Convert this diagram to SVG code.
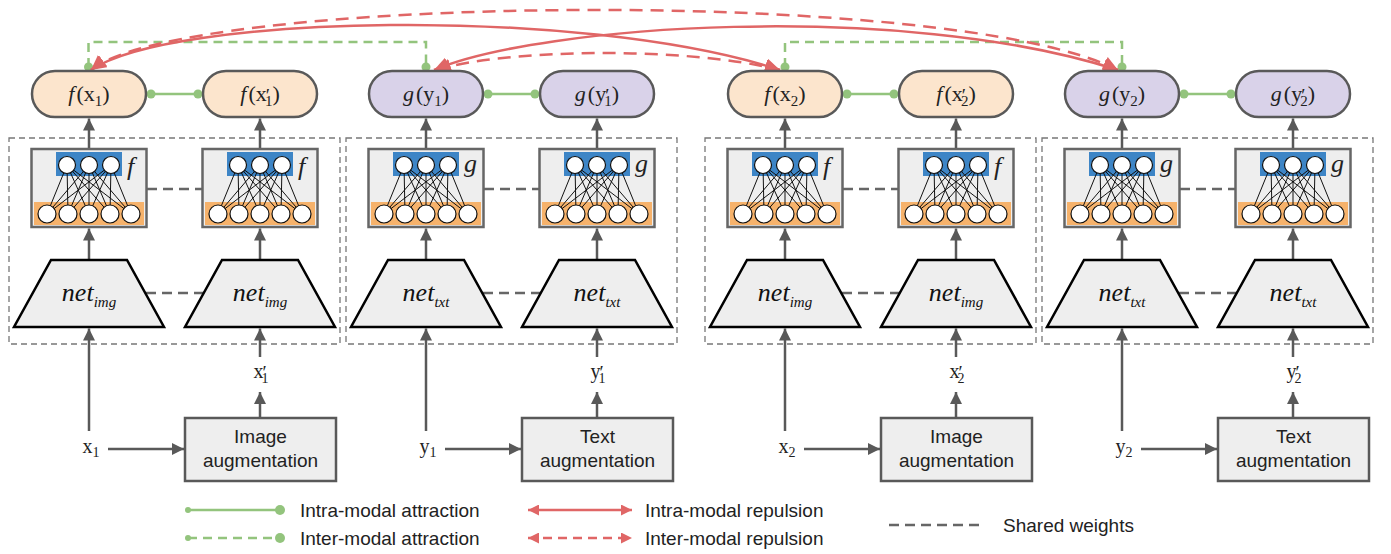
<svg xmlns="http://www.w3.org/2000/svg" xmlns:xlink="http://www.w3.org/1999/xlink" width="1391" height="554" viewBox="0 0 1391 554">
<style>
.rb{stroke:#595959;stroke-width:2.5}
.of{fill:#fce5cd}.pf{fill:#d9d2e9}
.nnbox{fill:#eeeeee;stroke:#666;stroke-width:2.5}
.trap{fill:#eeeeee;stroke:#000;stroke-width:2.5}
.panel{fill:none;stroke:#777;stroke-width:1.3;stroke-dasharray:6 4}
.aug{fill:#eeeeee;stroke:#595959;stroke-width:2.5}
.arr{stroke:#595959;stroke-width:2.5;fill:none;marker-end:url(#ga)}
.shared{stroke:#666;stroke-width:2.5;stroke-dasharray:10 6;fill:none}
.gs{stroke:#93c47d;stroke-width:2.5;fill:none}
.gd{stroke:#93c47d;stroke-width:2.5;fill:none;stroke-dasharray:9 6}
.gdot{fill:#93c47d}
.rs{stroke:#e06666;stroke-width:2.5;fill:none;marker-start:url(#ra);marker-end:url(#ra)}
.rd{stroke:#e06666;stroke-width:2.5;fill:none;stroke-dasharray:13 8;marker-start:url(#ra);marker-end:url(#ra)}
.rsl{stroke:#e06666;stroke-width:2.5;fill:none;marker-start:url(#ral);marker-end:url(#ral)}
.rdl{stroke:#e06666;stroke-width:2.5;fill:none;stroke-dasharray:9 6;marker-start:url(#ral);marker-end:url(#ral)}
.math{font-family:"Liberation Serif","Times New Roman","DejaVu Serif",serif;font-size:22px;fill:#222;text-anchor:middle}
.lab{font-family:"Liberation Serif","Times New Roman","DejaVu Serif",serif;font-size:20px;fill:#222;text-anchor:middle}
.it{font-style:italic}
.sub{font-size:15px}
.sub2{font-size:14px}
.pr{font-size:19px}
.net{font-family:"Liberation Serif","Times New Roman","DejaVu Serif",serif;font-size:26px;font-style:italic;fill:#111;text-anchor:middle}
.nsub{font-size:15px}
.nl{font-family:"Liberation Serif","Times New Roman","DejaVu Serif",serif;font-size:26px;font-style:italic;fill:#222}
.sans{font-family:"Liberation Sans",Arial,sans-serif;font-size:19px;fill:#222}
.mid{text-anchor:middle}
</style>
<defs>
<marker id="ga" markerUnits="userSpaceOnUse" markerWidth="13" markerHeight="12" refX="12" refY="6" orient="auto"><path d="M0,0L12,6L0,12z" fill="#595959"/></marker>
<marker id="ra" markerUnits="userSpaceOnUse" markerWidth="16" markerHeight="14" refX="15" refY="7" orient="auto-start-reverse"><path d="M0,0L15,7L0,14z" fill="#e06666"/></marker>
<marker id="ral" markerUnits="userSpaceOnUse" markerWidth="12" markerHeight="11" refX="11" refY="5.5" orient="auto-start-reverse"><path d="M0,0L11,5.5L0,11z" fill="#e06666"/></marker>
<g id="nn">
<rect class="nnbox" x="-57.5" y="149" width="115" height="78"/>
<rect x="-33" y="152" width="66" height="24" fill="#3d85c6"/>
<rect x="-55" y="202" width="110" height="23" fill="#f6b26b"/>
<path d="M-22 165L-42 214M-22 165L-21 214M-22 165L0 214M-22 165L21 214M-22 165L42 214M0 165L-42 214M0 165L-21 214M0 165L0 214M0 165L21 214M0 165L42 214M22 165L-42 214M22 165L-21 214M22 165L0 214M22 165L21 214M22 165L42 214" stroke="#111" stroke-width="1" fill="none"/>
<g fill="#fff" stroke="#111" stroke-width="1.2">
<circle cx="-22" cy="165" r="8.5"/><circle cx="0" cy="165" r="8.5"/><circle cx="22" cy="165" r="8.5"/>
<circle cx="-42" cy="214" r="9"/><circle cx="-21" cy="214" r="9"/><circle cx="0" cy="214" r="9"/><circle cx="21" cy="214" r="9"/><circle cx="42" cy="214" r="9"/>
</g>
</g>
<polygon id="trapz" class="trap" points="-38,260 38,260 75,327 -75,327"/>
</defs>

<g id="panels">
<rect class="panel" x="9" y="138" width="331" height="206"/>
<rect class="panel" x="346" y="138" width="331" height="206"/>
<rect class="panel" x="705" y="138" width="331" height="206"/>
<rect class="panel" x="1042" y="138" width="331" height="206"/>
</g>

<g id="connectors">
<path class="arr" d="M89 149V118.5"/><path class="arr" d="M260 149V118.5"/>
<path class="arr" d="M426 149V118.5"/><path class="arr" d="M597 149V118.5"/>
<path class="arr" d="M785 149V118.5"/><path class="arr" d="M956 149V118.5"/>
<path class="arr" d="M1122 149V118.5"/><path class="arr" d="M1293 149V118.5"/>
<path class="arr" d="M89 260V228.5"/><path class="arr" d="M260 260V228.5"/>
<path class="arr" d="M426 260V228.5"/><path class="arr" d="M597 260V228.5"/>
<path class="arr" d="M785 260V228.5"/><path class="arr" d="M956 260V228.5"/>
<path class="arr" d="M1122 260V228.5"/><path class="arr" d="M1293 260V228.5"/>
<path class="arr" d="M89 431V328.5"/><path class="arr" d="M426 431V328.5"/>
<path class="arr" d="M785 431V328.5"/><path class="arr" d="M1122 431V328.5"/>
<path class="arr" d="M260 357V328.5"/><path class="arr" d="M597 357V328.5"/>
<path class="arr" d="M956 357V328.5"/><path class="arr" d="M1293 357V328.5"/>
<path class="arr" d="M260 418V392"/><path class="arr" d="M597 418V392"/>
<path class="arr" d="M956 418V392"/><path class="arr" d="M1293 418V392"/>
<path class="arr" d="M108 449H184"/><path class="arr" d="M445 449H521"/>
<path class="arr" d="M804 449H880"/><path class="arr" d="M1141 449H1217"/>
<path class="shared" d="M147 189H202M484 189H539M843 189H898M1180 189H1235"/>
<path class="shared" d="M146 293H204M483 293H541M842 293H900M1179 293H1237"/>
<path class="gs" d="M151 94H198M488 94H535M847 94H894M1184 94H1231"/>
<g class="gdot">
<circle cx="151" cy="94" r="4.5"/><circle cx="198" cy="94" r="4.5"/>
<circle cx="488" cy="94" r="4.5"/><circle cx="535" cy="94" r="4.5"/>
<circle cx="847" cy="94" r="4.5"/><circle cx="894" cy="94" r="4.5"/>
<circle cx="1184" cy="94" r="4.5"/><circle cx="1231" cy="94" r="4.5"/>
</g>
<path class="gd" d="M88.5 67V42H426V67"/>
<path class="gd" d="M785 67V42H1122V67"/>
<g class="gdot">
<circle cx="88.5" cy="67" r="4.5"/><circle cx="426" cy="67" r="4.5"/>
<circle cx="785" cy="67" r="4.5"/><circle cx="1122" cy="67" r="4.5"/>
</g>
<path class="rd" d="M91 70C180 -5 950 -15 1118 70"/>
<path class="rs" d="M91 70C170 15 580 5 780 70"/>
<path class="rs" d="M434 70C540 25 900 0 1118 70"/>
<path class="rd" d="M436 70C500 50 680 45 780 70"/>
</g>

<g id="f-x1"><rect class="rb of" x="32" y="71" width="114" height="46" rx="23"/>
<text class="math" x="89" y="101"><tspan class="it">f</tspan><tspan dx="2">(x</tspan><tspan class="sub" dy="5">1</tspan><tspan dy="-5">)</tspan></text></g>
<g id="f-x1p"><rect class="rb of" x="203" y="71" width="114" height="46" rx="23"/>
<text class="math" x="260" y="101"><tspan class="it">f</tspan><tspan dx="2">(x</tspan><tspan class="pr" dx="-1" dy="1">′</tspan><tspan class="sub" dx="-5" dy="4">1</tspan><tspan dy="-5">)</tspan></text></g>
<g id="g-y1"><rect class="rb pf" x="369" y="71" width="114" height="46" rx="23"/>
<text class="math" x="426" y="101"><tspan class="it">g</tspan><tspan dx="2">(y</tspan><tspan class="sub" dy="5">1</tspan><tspan dy="-5">)</tspan></text></g>
<g id="g-y1p"><rect class="rb pf" x="540" y="71" width="114" height="46" rx="23"/>
<text class="math" x="597" y="101"><tspan class="it">g</tspan><tspan dx="2">(y</tspan><tspan class="pr" dx="-1" dy="1">′</tspan><tspan class="sub" dx="-5" dy="4">1</tspan><tspan dy="-5">)</tspan></text></g>
<g id="f-x2"><rect class="rb of" x="728" y="71" width="114" height="46" rx="23"/>
<text class="math" x="785" y="101"><tspan class="it">f</tspan><tspan dx="2">(x</tspan><tspan class="sub" dy="5">2</tspan><tspan dy="-5">)</tspan></text></g>
<g id="f-x2p"><rect class="rb of" x="899" y="71" width="114" height="46" rx="23"/>
<text class="math" x="956" y="101"><tspan class="it">f</tspan><tspan dx="2">(x</tspan><tspan class="pr" dx="-1" dy="1">′</tspan><tspan class="sub" dx="-5" dy="4">2</tspan><tspan dy="-5">)</tspan></text></g>
<g id="g-y2"><rect class="rb pf" x="1065" y="71" width="114" height="46" rx="23"/>
<text class="math" x="1122" y="101"><tspan class="it">g</tspan><tspan dx="2">(y</tspan><tspan class="sub" dy="5">2</tspan><tspan dy="-5">)</tspan></text></g>
<g id="g-y2p"><rect class="rb pf" x="1236" y="71" width="114" height="46" rx="23"/>
<text class="math" x="1293" y="101"><tspan class="it">g</tspan><tspan dx="2">(y</tspan><tspan class="pr" dx="-1" dy="1">′</tspan><tspan class="sub" dx="-5" dy="4">2</tspan><tspan dy="-5">)</tspan></text></g>

<g id="head-f-1"><use href="#nn" xlink:href="#nn" transform="translate(89,0)"/><text class="nl" x="127" y="175">f</text></g>
<g id="head-f-1p"><use href="#nn" xlink:href="#nn" transform="translate(260,0)"/><text class="nl" x="298" y="175">f</text></g>
<g id="head-g-1"><use href="#nn" xlink:href="#nn" transform="translate(426,0)"/><text class="nl" x="464" y="172">g</text></g>
<g id="head-g-1p"><use href="#nn" xlink:href="#nn" transform="translate(597,0)"/><text class="nl" x="635" y="172">g</text></g>
<g id="head-f-2"><use href="#nn" xlink:href="#nn" transform="translate(785,0)"/><text class="nl" x="823" y="175">f</text></g>
<g id="head-f-2p"><use href="#nn" xlink:href="#nn" transform="translate(956,0)"/><text class="nl" x="994" y="175">f</text></g>
<g id="head-g-2"><use href="#nn" xlink:href="#nn" transform="translate(1122,0)"/><text class="nl" x="1160" y="172">g</text></g>
<g id="head-g-2p"><use href="#nn" xlink:href="#nn" transform="translate(1293,0)"/><text class="nl" x="1331" y="172">g</text></g>

<g id="enc-img-1"><use href="#trapz" xlink:href="#trapz" transform="translate(89,0)"/><text class="net" x="89" y="301">net<tspan class="nsub" dy="6">img</tspan></text></g>
<g id="enc-img-1p"><use href="#trapz" xlink:href="#trapz" transform="translate(260,0)"/><text class="net" x="260" y="301">net<tspan class="nsub" dy="6">img</tspan></text></g>
<g id="enc-txt-1"><use href="#trapz" xlink:href="#trapz" transform="translate(426,0)"/><text class="net" x="426" y="301">net<tspan class="nsub" dy="6">txt</tspan></text></g>
<g id="enc-txt-1p"><use href="#trapz" xlink:href="#trapz" transform="translate(597,0)"/><text class="net" x="597" y="301">net<tspan class="nsub" dy="6">txt</tspan></text></g>
<g id="enc-img-2"><use href="#trapz" xlink:href="#trapz" transform="translate(785,0)"/><text class="net" x="785" y="301">net<tspan class="nsub" dy="6">img</tspan></text></g>
<g id="enc-img-2p"><use href="#trapz" xlink:href="#trapz" transform="translate(956,0)"/><text class="net" x="956" y="301">net<tspan class="nsub" dy="6">img</tspan></text></g>
<g id="enc-txt-2"><use href="#trapz" xlink:href="#trapz" transform="translate(1122,0)"/><text class="net" x="1122" y="301">net<tspan class="nsub" dy="6">txt</tspan></text></g>
<g id="enc-txt-2p"><use href="#trapz" xlink:href="#trapz" transform="translate(1293,0)"/><text class="net" x="1293" y="301">net<tspan class="nsub" dy="6">txt</tspan></text></g>

<g id="in-x1"><text class="lab" x="91" y="453">x<tspan class="sub2" dy="4">1</tspan></text></g>
<g id="in-x1p"><text class="lab" x="261" y="378">x<tspan class="pr" dx="-1" dy="1">′</tspan><tspan class="sub2" dx="-5" dy="4">1</tspan></text></g>
<g id="in-y1"><text class="lab" x="428" y="453">y<tspan class="sub2" dy="4">1</tspan></text></g>
<g id="in-y1p"><text class="lab" x="598" y="378">y<tspan class="pr" dx="-1" dy="1">′</tspan><tspan class="sub2" dx="-5" dy="4">1</tspan></text></g>
<g id="in-x2"><text class="lab" x="787" y="453">x<tspan class="sub2" dy="4">2</tspan></text></g>
<g id="in-x2p"><text class="lab" x="957" y="378">x<tspan class="pr" dx="-1" dy="1">′</tspan><tspan class="sub2" dx="-5" dy="4">2</tspan></text></g>
<g id="in-y2"><text class="lab" x="1124" y="453">y<tspan class="sub2" dy="4">2</tspan></text></g>
<g id="in-y2p"><text class="lab" x="1294" y="378">y<tspan class="pr" dx="-1" dy="1">′</tspan><tspan class="sub2" dx="-5" dy="4">2</tspan></text></g>

<g id="aug-img-1"><rect class="aug" x="185" y="418" width="151" height="63"/><text class="sans mid" x="260.5" y="443">Image</text><text class="sans mid" x="260.5" y="467">augmentation</text></g>
<g id="aug-txt-1"><rect class="aug" x="522" y="418" width="151" height="63"/><text class="sans mid" x="597.5" y="443">Text</text><text class="sans mid" x="597.5" y="467">augmentation</text></g>
<g id="aug-img-2"><rect class="aug" x="881" y="418" width="151" height="63"/><text class="sans mid" x="956.5" y="443">Image</text><text class="sans mid" x="956.5" y="467">augmentation</text></g>
<g id="aug-txt-2"><rect class="aug" x="1218" y="418" width="151" height="63"/><text class="sans mid" x="1293.5" y="443">Text</text><text class="sans mid" x="1293.5" y="467">augmentation</text></g>

<g id="legend">
<path class="gs" d="M188 510H280"/><circle class="gdot" cx="188" cy="510" r="3"/><circle class="gdot" cx="280" cy="510" r="5"/>
<text class="sans" x="300" y="517">Intra-modal attraction</text>
<path class="gd" d="M188 538H280"/><circle class="gdot" cx="188" cy="538" r="3"/><circle class="gdot" cx="280" cy="538" r="5"/>
<text class="sans" x="300" y="545">Inter-modal attraction</text>
<path class="rsl" d="M528 510H632"/>
<text class="sans" x="645" y="517">Intra-modal repulsion</text>
<path class="rdl" d="M528 538H632"/>
<text class="sans" x="645" y="545">Inter-modal repulsion</text>
<path class="shared" d="M889 525H985"/>
<text class="sans" x="1003" y="532">Shared weights</text>
</g>
</svg>
